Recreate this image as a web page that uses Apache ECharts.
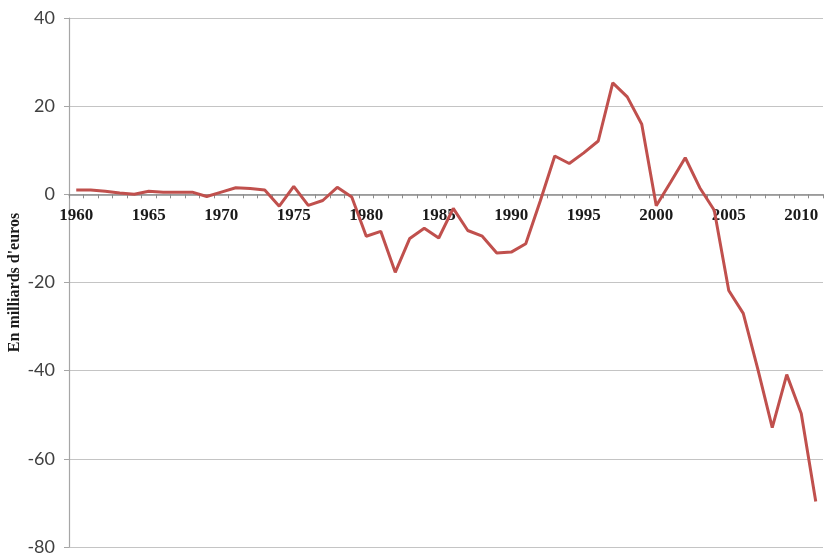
<!DOCTYPE html>
<html>
<head>
<meta charset="utf-8">
<script src="https://cdn.jsdelivr.net/npm/echarts@6/dist/echarts.min.js"></script>
<style>html,body{margin:0;padding:0;background:#fff;}#c{width:826px;height:555px;}</style>
</head>
<body>
<div id="c"></div>
<script>
var years = [];
for (var y = 1960; y <= 2011; y++) years.push(String(y));
var values = [
  1.0, 1.0, 0.7, 0.3, 0.0, 0.7, 0.5, 0.5, 0.5, -0.5,
  0.5, 1.5, 1.3, 1.0, -2.7, 1.8, -2.5, -1.4, 1.6, -0.6,
  -9.5, -8.4, -17.7, -10.0, -7.7, -9.9, -3.2, -8.2, -9.5, -13.3,
  -13.1, -11.2, -1.5, 8.7, 7.0, 9.4, 12.1, 25.3, 22.1, 15.9,
  -2.6, 2.8, 8.3, 1.5, -3.6, -21.8, -27.0, -39.6, -52.9, -40.9,
  -49.7, -69.7
];
var yAxisTitle = "En milliards d'euros";

var gridTop = 18, gridBottom = 8, H = 555;
var yMin = -80, yMax = 40;
var plotH = H - gridTop - gridBottom;
var zeroOffset = -plotH * (0 - yMin) / (yMax - yMin);

var chart = echarts.init(document.getElementById('c'));
chart.setOption({
  animation: false,
  grid: { left: 69, right: 3, top: gridTop, bottom: gridBottom, containLabel: false, outerBoundsMode: 'none' },
  xAxis: {
    type: 'category',
    data: years,
    boundaryGap: true,
    position: 'bottom',
    offset: zeroOffset,
    axisLine: { onZero: false, lineStyle: { color: '#8c8c8c', width: 1.5 } },
    axisTick: { show: true, interval: 0, length: 4, lineStyle: { color: '#8c8c8c' } },
    axisLabel: {
      interval: 4,
      margin: 13,
      fontFamily: 'Liberation Serif',
      fontWeight: 'bold',
      fontSize: 17,
      color: '#1a1a1a'
    },
    splitLine: { show: false }
  },
  yAxis: {
    type: 'value',
    min: yMin,
    max: yMax,
    interval: 20,
    name: yAxisTitle,
    nameLocation: 'middle',
    nameGap: 46,
    nameRotate: 90,
    nameMoveOverlap: false,
    nameTextStyle: {
      fontFamily: 'Liberation Serif',
      fontWeight: 'bold',
      fontSize: 16,
      color: '#1a1a1a'
    },
    axisLine: { show: true, lineStyle: { color: '#a6a6a6', width: 1.2 } },
    axisTick: { show: true, length: 5, lineStyle: { color: '#a6a6a6' } },
    axisLabel: {
      margin: 14,
      fontFamily: 'Lato',
      fontSize: 18,
      color: '#404040'
    },
    splitLine: { show: true, lineStyle: { color: '#c4c4c4', width: 1.2 } }
  },
  series: [{
    type: 'line',
    data: values,
    showSymbol: false,
    symbol: 'none',
    lineStyle: { color: '#c0504d', width: 3 },
    itemStyle: { color: '#c0504d' }
  }]
});
</script>
</body>
</html>
